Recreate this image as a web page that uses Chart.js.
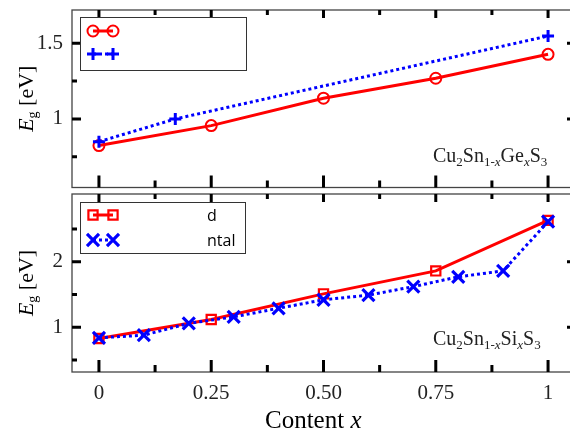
<!DOCTYPE html>
<html><head><meta charset="utf-8">
<script src="https://cdn.jsdelivr.net/npm/chart.js@4"></script>
<style>
html,body{margin:0;padding:0;background:#fff;overflow:hidden;width:570px;height:437px;}
#wrap{position:relative;width:580px;height:437px;}
canvas{position:absolute;left:0;top:0;}
</style></head><body>
<div id="wrap"><canvas id="c1" width="580" height="437"></canvas><canvas id="c2" width="580" height="437"></canvas></div>
<script>
// ---- data ----
const geX_calc = [0, 0.25, 0.5, 0.75, 1];
const geE_calc = [0.824, 0.956, 1.137, 1.269, 1.427];
const geX_exp = [0, 0.17, 1];
const geE_exp = [0.85, 1.0, 1.548];

const siX_calc = [0, 0.25, 0.5, 0.75, 1];
const siE_calc = [0.83, 1.12, 1.51, 1.86, 2.63];
const siX_exp = [0, 0.1, 0.2, 0.3, 0.4, 0.5, 0.6, 0.7, 0.8, 0.9, 1];
const siE_exp = [0.84, 0.88, 1.06, 1.16, 1.29, 1.42, 1.49, 1.62, 1.77, 1.86, 2.61];

const xTickValues = [0, 0.25, 0.5, 0.75, 1];
const xTickLabels = ['0', '0.25', '0.50', '0.75', '1'];
const xMinorTicks = [0.125, 0.375, 0.625, 0.875];

const geYTickValues = [1, 1.5];
const geYTickLabels = ['1', '1.5'];
const geYMinorTicks = [0.75, 1.25];

const siYTickValues = [1, 2];
const siYTickLabels = ['1', '2'];
const siYMinorTicks = [0.5, 1.5, 2.5];

const legendLabels = ['d', 'ntal'];
const xTitle = ['Content ', 'x'];
const yTitle = ['E', 'g', ' [eV]'];

const SERIF = '"Liberation Serif", "Times New Roman", serif';
const RED = '#ff0000', BLUE = '#0000ff';

function toPts(xs, ys) { return xs.map((x, i) => ({x: x, y: ys[i]})); }

function drawRuns(ctx, runs, x, y) {
  let cx = x;
  for (const r of runs) {
    ctx.font = r.font;
    ctx.fillText(r.t, cx, y + (r.dy || 0));
    cx += ctx.measureText(r.t).width;
  }
  return cx - x;
}
function runsWidth(ctx, runs) {
  let w = 0;
  for (const r of runs) { ctx.font = r.font; w += ctx.measureText(r.t).width; }
  return w;
}

function makePlugin(opt) {
  return {
    id: 'decor',
    afterDatasetsDraw(chart) {
      const ctx = chart.ctx, a = chart.chartArea;
      const xs = chart.scales.x, ys = chart.scales.y;
      ctx.save();
      // frame
      ctx.strokeStyle = '#444'; ctx.lineWidth = 1.3;
      ctx.strokeRect(a.left, a.top, a.right - a.left, a.bottom - a.top);
      // ticks
      ctx.strokeStyle = '#000'; ctx.lineWidth = 3; ctx.lineCap = 'butt';
      const L = {top: [8, 5], bottom: [12, 7], left: [9, 5], right: [8, 5]};
      function xt(v, major) {
        const px = xs.getPixelForValue(v);
        const lt = major ? L.top[0] : L.top[1], lb = major ? L.bottom[0] : L.bottom[1];
        ctx.beginPath();
        ctx.moveTo(px, a.top); ctx.lineTo(px, a.top + lt);
        ctx.moveTo(px, a.bottom); ctx.lineTo(px, a.bottom - lb);
        ctx.stroke();
      }
      function yt(v, major) {
        const py = ys.getPixelForValue(v);
        const ll = major ? L.left[0] : L.left[1], lr = major ? L.right[0] : L.right[1];
        ctx.beginPath();
        ctx.moveTo(a.left, py); ctx.lineTo(a.left + ll, py);
        ctx.moveTo(a.right, py); ctx.lineTo(a.right - lr, py);
        ctx.stroke();
      }
      xTickValues.forEach(v => xt(v, true));
      xMinorTicks.forEach(v => xt(v, false));
      opt.yMajor.forEach(v => yt(v, true));
      opt.yMinor.forEach(v => yt(v, false));

      // legend box
      const lb = opt.legendBox;
      ctx.fillStyle = '#fff';
      ctx.fillRect(lb[0], lb[1], lb[2], lb[3]);
      ctx.strokeStyle = '#333'; ctx.lineWidth = 1;
      ctx.strokeRect(lb[0] + 0.5, lb[1] + 0.5, lb[2], lb[3]);
      const ds = chart.data.datasets;
      opt.legendRows.forEach((row, i) => {
        const d = ds[row.ds];
        const y = row.y, x1 = 93, x2 = 113;
        ctx.save();
        ctx.strokeStyle = d.borderColor; ctx.lineWidth = d.borderWidth;
        ctx.setLineDash(d.borderDash || []);
        ctx.beginPath(); ctx.moveTo(x1, y); ctx.lineTo(x2, y); ctx.stroke();
        ctx.setLineDash([]);
        ctx.strokeStyle = d.pointBorderColor; ctx.fillStyle = 'rgba(0,0,0,0)';
        const po = {pointStyle: d.pointStyle, radius: d.pointRadius, borderWidth: d.pointBorderWidth, rotation: 0};
        ctx.lineWidth = d.pointBorderWidth;
        Chart.helpers.drawPoint(ctx, po, x1, y);
        Chart.helpers.drawPoint(ctx, po, x2, y);
        ctx.restore();
        if (row.text) {
          ctx.fillStyle = '#000';
          ctx.font = '16px "Open Sans", "DejaVu Sans", sans-serif';
          ctx.textBaseline = 'middle'; ctx.textAlign = 'left';
          ctx.fillText(row.text, 207, y + 1);
        }
      });

      // formula annotation
      ctx.fillStyle = '#222'; ctx.textBaseline = 'alphabetic'; ctx.textAlign = 'left';
      drawRuns(ctx, opt.formula, 433, opt.formulaY);

      // y title
      ctx.fillStyle = '#000';
      const yruns = [
        {t: yTitle[0], font: 'italic 22px ' + SERIF},
        {t: yTitle[1], font: '14px ' + SERIF, dy: 4},
        {t: yTitle[2], font: '22px ' + SERIF}
      ];
      const w = runsWidth(ctx, yruns);
      ctx.save();
      ctx.translate(33, (a.top + a.bottom) / 2);
      ctx.rotate(-Math.PI / 2);
      drawRuns(ctx, yruns, -w / 2, 0);
      ctx.restore();

      // x title
      if (opt.xTitle) {
        const xr = [
          {t: xTitle[0], font: '25px ' + SERIF},
          {t: xTitle[1], font: 'italic 25px ' + SERIF}
        ];
        drawRuns(ctx, xr, 265, 428);
      }
      ctx.restore();
    }
  };
}

function sub(t, italic) { return {t: t, font: (italic ? 'italic ' : '') + '13px ' + SERIF, dy: 4}; }
function main(t) { return {t: t, font: '20px ' + SERIF}; }

function baseOptions(o) {
  return {
    responsive: false, animation: false, devicePixelRatio: 1,
    layout: {padding: o.padding, autoPadding: false},
    plugins: {legend: {display: false}, tooltip: {enabled: false}},
    scales: {
      x: {
        type: 'linear', min: -0.06, max: 1.06, display: o.xDisplay,
        grid: {display: false, drawTicks: false}, border: {display: false},
        afterFit: s => { s.height = o.xDisplay ? 65 : 0; s.paddingLeft = 0; s.paddingRight = 0; s.paddingTop = 0; s.paddingBottom = 0; },
        afterBuildTicks: s => { s.ticks = xTickValues.map(v => ({value: v})); },
        ticks: {
          autoSkip: false, maxRotation: 0, padding: 9, color: '#222',
          font: {family: SERIF, size: 21},
          callback: (v, i) => xTickLabels[xTickValues.indexOf(v)]
        }
      },
      y: {
        type: 'linear', min: o.yMin, max: o.yMax,
        grid: {display: false, drawTicks: false}, border: {display: false},
        afterFit: s => { s.width = 72; s.paddingTop = 0; s.paddingBottom = 0; s.paddingLeft = 0; s.paddingRight = 0; },
        afterBuildTicks: s => { s.ticks = o.yTicks.map(v => ({value: v})); },
        ticks: {
          autoSkip: false, padding: 9, color: '#222',
          font: {family: SERIF, size: 21},
          callback: (v) => o.yLabels[o.yTicks.indexOf(v)]
        }
      }
    }
  };
}

// ---- top panel ----
new Chart(document.getElementById('c1'), {
  type: 'line',
  data: {datasets: [
    {data: toPts(geX_calc, geE_calc), borderColor: RED, borderWidth: 3, pointStyle: 'circle',
     pointRadius: 5.5, pointBorderWidth: 2, pointBorderColor: RED, pointBackgroundColor: 'rgba(0,0,0,0)', order: 1, tension: 0},
    {data: toPts(geX_exp, geE_exp), borderColor: BLUE, borderWidth: 3, borderDash: [3, 3], pointStyle: 'cross',
     pointRadius: 6, pointBorderWidth: 3, pointBorderColor: BLUE, pointBackgroundColor: 'rgba(0,0,0,0)', order: 0, tension: 0}
  ]},
  options: baseOptions({padding: {left: 0, right: 5, top: 10, bottom: 437 - 187.5}, xDisplay: false,
    yMin: 0.547, yMax: 1.72, yTicks: geYTickValues, yLabels: geYTickLabels}),
  plugins: [makePlugin({
    yMajor: geYTickValues, yMinor: geYMinorTicks,
    legendBox: [80, 17, 166, 53],
    legendRows: [{ds: 0, y: 31}, {ds: 1, y: 54}],
    formula: [main('Cu'), sub('2'), main('Sn'), sub('1-'), sub('x', true), main('Ge'), sub('x', true), main('S'), sub('3')],
    formulaY: 162, xTitle: false
  })]
});

// ---- bottom panel ----
new Chart(document.getElementById('c2'), {
  type: 'line',
  data: {datasets: [
    {data: toPts(siX_calc, siE_calc), borderColor: RED, borderWidth: 3, pointStyle: 'rect',
     pointRadius: 6.5, pointBorderWidth: 2.2, pointBorderColor: RED, pointBackgroundColor: 'rgba(0,0,0,0)', order: 1, tension: 0},
    {data: toPts(siX_exp, siE_exp), borderColor: BLUE, borderWidth: 3, borderDash: [3, 3], pointStyle: 'crossRot',
     pointRadius: 8.5, pointBorderWidth: 3.2, pointBorderColor: BLUE, pointBackgroundColor: 'rgba(0,0,0,0)', order: 0, tension: 0}
  ]},
  options: baseOptions({padding: {left: 0, right: 5, top: 194, bottom: 0}, xDisplay: true,
    yMin: 0.319, yMax: 3.032, yTicks: siYTickValues, yLabels: siYTickLabels}),
  plugins: [makePlugin({
    yMajor: siYTickValues, yMinor: siYMinorTicks,
    legendBox: [80, 202, 165, 51],
    legendRows: [{ds: 0, y: 215, text: legendLabels[0]}, {ds: 1, y: 240, text: legendLabels[1]}],
    formula: [main('Cu'), sub('2'), main('Sn'), sub('1-'), sub('x', true), main('Si'), sub('x', true), main('S'), sub('3')],
    formulaY: 345, xTitle: true
  })]
});
</script>
</body></html>
